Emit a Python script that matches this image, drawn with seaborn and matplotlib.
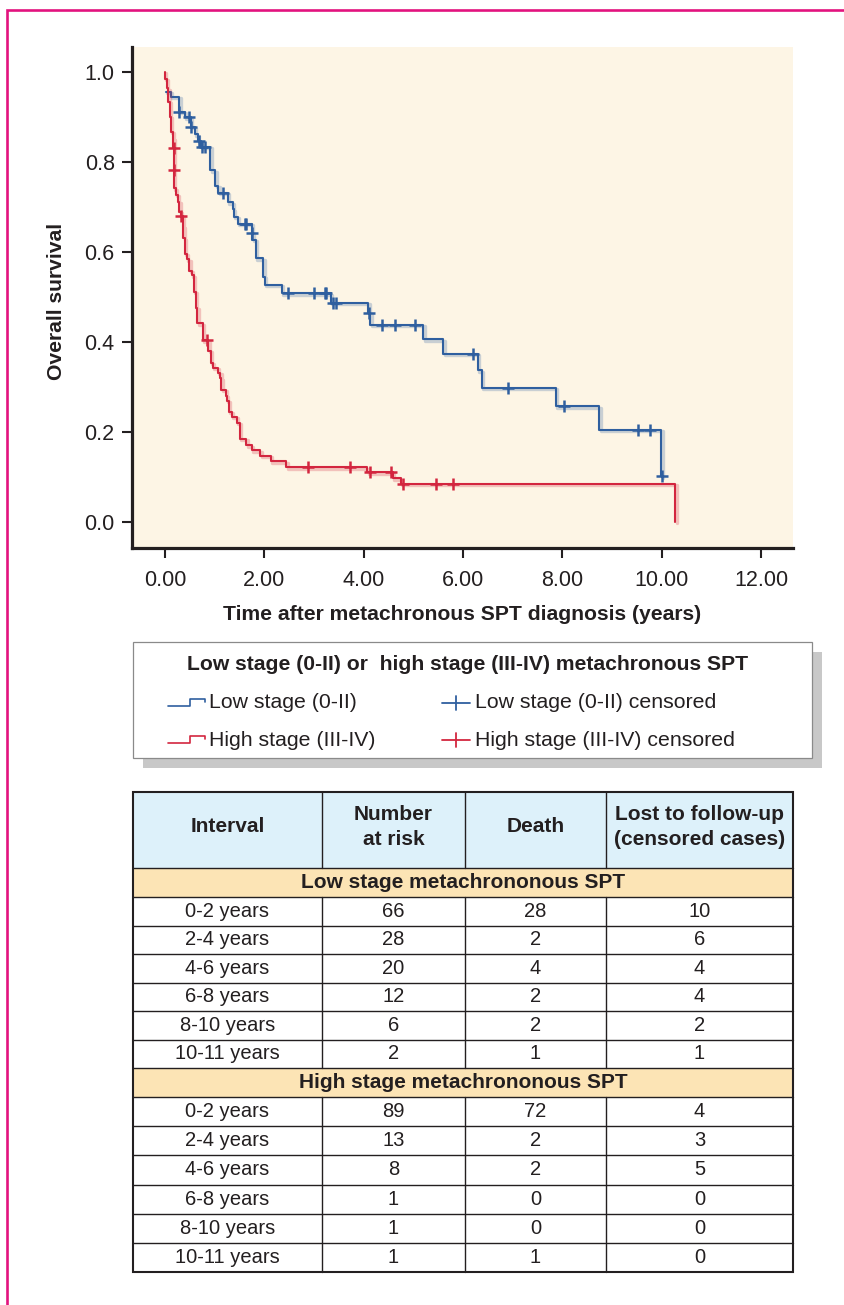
import numpy as np
import pandas as pd
import matplotlib
matplotlib.use("Agg")
import matplotlib.pyplot as plt
import matplotlib.patheffects as pe
from matplotlib.patches import Rectangle
import seaborn as sns

# -----------------------------------------------------------------------------
# dades (llegides del gràfic)
# -----------------------------------------------------------------------------
# Low stage (0-II): temps del graó (anys) i supervivència després del graó
low_t = [0.02, 0.12, 0.29, 0.40, 0.52, 0.60, 0.66, 0.72, 0.91, 1.01, 1.07,
         1.27, 1.36, 1.39, 1.46, 1.745, 1.755, 1.83, 1.98, 2.01, 2.35, 3.34,
         4.09, 4.13, 5.20, 5.60, 6.30, 6.38, 7.87, 8.74, 9.99, 10.00]
low_s = [0.955, 0.944, 0.911, 0.899, 0.878, 0.861, 0.847, 0.833, 0.781,
         0.746, 0.731, 0.710, 0.694, 0.678, 0.662, 0.642, 0.627, 0.586,
         0.545, 0.527, 0.508, 0.487, 0.464, 0.438, 0.406, 0.374, 0.337,
         0.298, 0.257, 0.205, 0.101, 0.101]
low_cens_t = [0.29, 0.48, 0.53, 0.68, 0.74, 0.81, 1.17, 1.62, 1.64, 1.75,
              2.48, 2.99, 3.22, 3.24, 3.39, 3.44, 4.10, 4.37, 4.63, 5.04,
              6.19, 6.91, 8.04, 9.53, 9.77, 10.00]

# High stage (III-IV)
high_t = [0.0, 0.0, 0.034, 0.066, 0.10, 0.12, 0.155, 0.170, 0.176, 0.182,
          0.215, 0.256, 0.288, 0.315, 0.357, 0.37, 0.40, 0.437, 0.49, 0.54,
          0.58, 0.62, 0.65, 0.76, 0.87, 0.92, 0.96, 1.06, 1.11, 1.13, 1.22,
          1.25, 1.29, 1.34, 1.45, 1.50, 1.64, 1.75, 1.92, 2.13, 2.44, 4.07,
          4.58, 4.75, 10.27, 10.27]
high_s = [1.0, 0.985, 0.963, 0.933, 0.900, 0.867, 0.852, 0.830, 0.782,
          0.741, 0.726, 0.711, 0.689, 0.680, 0.656, 0.630, 0.596, 0.583,
          0.558, 0.548, 0.511, 0.476, 0.441, 0.403, 0.380, 0.354, 0.342,
          0.331, 0.319, 0.294, 0.280, 0.269, 0.244, 0.233, 0.220, 0.184,
          0.170, 0.159, 0.147, 0.135, 0.121, 0.110, 0.097, 0.085, 0.085, 0.0]
high_cens_t = [0.173, 0.179, 0.325, 0.85, 2.87, 3.73, 4.13, 4.55, 4.80,
               5.46, 5.80]

x_ticks = [0, 2, 4, 6, 8, 10, 12]
y_ticks = [0.0, 0.2, 0.4, 0.6, 0.8, 1.0]

intervals = ["0-2 years", "2-4 years", "4-6 years", "6-8 years",
             "8-10 years", "10-11 years"]
low_risk = [66, 28, 20, 12, 6, 2]
low_death = [28, 2, 4, 2, 2, 1]
low_lost = [10, 6, 4, 4, 2, 1]
high_risk = [89, 13, 8, 1, 1, 1]
high_death = [72, 2, 2, 0, 0, 1]
high_lost = [4, 3, 5, 0, 0, 0]

# -----------------------------------------------------------------------------
# estil
# -----------------------------------------------------------------------------
sns.set_style("ticks")
plt.rcParams['font.family'] = ['Liberation Sans', 'DejaVu Sans']

BLUE = '#2F5F9F'
RED = '#D3263F'
BEIGE = '#FDF5E5'
MAGENTA = '#E2137E'
INK = '#231F20'

W, H = 845, 1305
fig = plt.figure(figsize=(W / 100, H / 100), dpi=100)

# capa de fons en píxels (marc, llegenda, taula)
ov = fig.add_axes([0, 0, 1, 1], zorder=0)
ov.set_xlim(0, W)
ov.set_ylim(H, 0)
ov.axis('off')
ov.patch.set_visible(False)

ov.plot([7, 7, W], [H, 10, 10], color=MAGENTA, lw=1.9, solid_joinstyle='miter')

# -----------------------------------------------------------------------------
# corbes Kaplan-Meier
# -----------------------------------------------------------------------------
ax = fig.add_axes([132 / W, 1 - 548 / H, 661 / W, 501 / H], zorder=1)
ax.set_facecolor(BEIGE)


def surv_at(ts, ss, t):
    idx = np.searchsorted(np.array(ts), t, side='right') - 1
    return np.array(ss)[idx]


groups = [(low_t, low_s, low_cens_t, BLUE), (high_t, high_s, high_cens_t, RED)]
for ts, ss, cens, col in groups:
    df = pd.DataFrame({'t': ts, 's': ss})
    sns.lineplot(data=df, x='t', y='s', ax=ax, estimator=None, sort=False,
                 drawstyle='steps-post', color=col, lw=1.5,
                 path_effects=[pe.SimpleLineShadow(offset=(1.0, -1.0),
                                                   shadow_color=col,
                                                   alpha=0.25, linewidth=2.4),
                               pe.Normal()])
    dc = pd.DataFrame({'t': cens, 's': surv_at(ts, ss, cens)})
    sns.scatterplot(data=dc, x='t', y='s', ax=ax, marker='+', s=70,
                    linewidth=1.8, color=col, zorder=5)

ax.set_xlim(-0.664, 12.64)
ax.set_ylim(-0.058, 1.055)
ax.set_xticks(x_ticks)
ax.set_xticklabels([f'{v:.2f}' for v in x_ticks])
ax.set_yticks(y_ticks)
ax.set_yticklabels([f'{v:.1f}' for v in y_ticks])
ax.tick_params(direction='out', length=7.5, width=1.5, labelsize=15.5,
               color=INK, labelcolor=INK)
ax.tick_params(axis='x', pad=8)
ax.tick_params(axis='y', pad=5)
for side in ['top', 'right']:
    ax.spines[side].set_visible(False)
for side in ['left', 'bottom']:
    ax.spines[side].set_linewidth(2.3)
    ax.spines[side].set_color(INK)

ax.set_xlabel('Time after metachronous SPT diagnosis (years)',
              fontsize=15.2, fontweight='bold', color=INK)
ax.set_ylabel('Overall survival', fontsize=15.2, fontweight='bold', color=INK)
ax.xaxis.label.set_va('center')
ax.yaxis.label.set_va('center')
ax.xaxis.set_label_coords((462 - 132) / 661, (548 - 615) / 501)
ax.yaxis.set_label_coords((57 - 132) / 661, (548 - 301) / 501)

# -----------------------------------------------------------------------------
# llegenda
# -----------------------------------------------------------------------------
ov.add_patch(Rectangle((143, 652), 679, 116, fc='#C8C8C8', ec='none'))
ov.add_patch(Rectangle((133, 642), 679, 116, fc='white', ec='#8A8A8A', lw=0.9))
ov.text(468, 665, 'Low stage (0-II) or  high stage (III-IV) metachronous SPT',
        ha='center', va='center', fontsize=15.2, fontweight='bold', color=INK)

leg_rows = [(703, BLUE, 'Low stage (0-II)', 'Low stage (0-II) censored'),
            (740, RED, 'High stage (III-IV)', 'High stage (III-IV) censored')]
for yy, col, lab1, lab2 in leg_rows:
    ov.plot([168, 190, 190, 205, 205], [yy + 3, yy + 3, yy - 4, yy - 4, yy - 1],
            color=col, lw=1.2)
    ov.text(209, yy, lab1, ha='left', va='center', fontsize=15.3, color=INK)
    ov.plot([442, 470], [yy, yy], color=col, lw=1.3)
    ov.plot([456, 456], [yy - 7, yy + 7], color=col, lw=1.3)
    ov.text(475, yy, lab2, ha='left', va='center', fontsize=15.3, color=INK)

# -----------------------------------------------------------------------------
# taula
# -----------------------------------------------------------------------------
cols_x = [133, 322, 465, 606, 793]
col_c = [(cols_x[i] + cols_x[i + 1]) / 2 for i in range(4)]
top, hdr_b = 792, 868
sec1_b = 897
blk1 = np.linspace(sec1_b, 1068, 7)
sec2_b = 1097
blk2 = np.linspace(sec2_b, 1272, 7)

ov.add_patch(Rectangle((133, top), 660, hdr_b - top, fc='#DDF1FA', ec='none'))
ov.add_patch(Rectangle((133, hdr_b), 660, sec1_b - hdr_b, fc='#FCE4B5', ec='none'))
ov.add_patch(Rectangle((133, 1068), 660, sec2_b - 1068, fc='#FCE4B5', ec='none'))

for yy in [hdr_b, sec1_b] + list(blk1[1:-1]) + [1068, sec2_b] + list(blk2[1:-1]):
    ov.plot([133, 793], [yy, yy], color=INK, lw=1.0)
for xx in cols_x[1:-1]:
    for y0, y1 in [(top, hdr_b), (sec1_b, 1068), (sec2_b, 1272)]:
        ov.plot([xx, xx], [y0, y1], color=INK, lw=1.0)
ov.add_patch(Rectangle((133, top), 660, 1272 - top, fc='none', ec=INK, lw=1.5))

hdr = ['Interval', 'Number\nat risk', 'Death', 'Lost to follow-up\n(censored cases)']
for cx, lab in zip(col_c, hdr):
    ov.text(cx, 827, lab, ha='center', va='center', fontsize=15,
            fontweight='bold', color=INK, linespacing=1.45)

ov.text(463, (hdr_b + sec1_b) / 2, 'Low stage metachrononous SPT', ha='center',
        va='center', fontsize=15, fontweight='bold', color=INK)
ov.text(463, (1068 + sec2_b) / 2, 'High stage metachrononous SPT', ha='center',
        va='center', fontsize=15, fontweight='bold', color=INK)

for edges, risk, death, lost in [(blk1, low_risk, low_death, low_lost),
                                 (blk2, high_risk, high_death, high_lost)]:
    for i in range(6):
        yc = (edges[i] + edges[i + 1]) / 2
        vals = [intervals[i], risk[i], death[i], lost[i]]
        for cx, v in zip(col_c, vals):
            ov.text(cx, yc, str(v), ha='center', va='center', fontsize=14.5,
                    color=INK)

plt.savefig('out.png', dpi=100)
